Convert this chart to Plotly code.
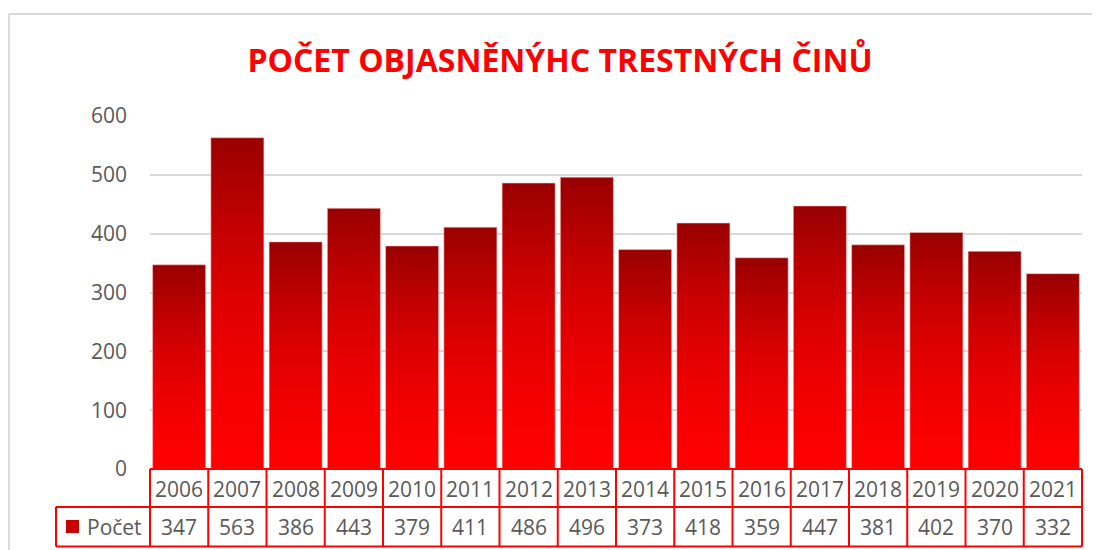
import plotly.graph_objects as go

years = ["2006", "2007", "2008", "2009", "2010", "2011", "2012", "2013",
         "2014", "2015", "2016", "2017", "2018", "2019", "2020", "2021"]
counts = [347, 563, 386, 443, 379, 411, 486, 496, 373, 418, 359, 447, 381, 402, 370, 332]
series_name = "Počet"
title_text = "POČET OBJASNĚNÝHC TRESTNÝCH ČINŮ"
y_ticks = [0, 100, 200, 300, 400, 500, 600]

OFF = 8  # page body margin
W, H = 1100 - OFF, 550 - OFF
# plot area in page pixels
PL, PR, PT, PB = 150, 1082, 116, 469
L, R, T, B = PL - OFF, W - (PR - OFF), PT - OFF, H - (PB - OFF)
pw, ph = PR - PL, PB - PT

def px_x(p):
    return (p - PL) / pw

def px_y(p):
    return (PB - p) / ph

RED = "#FF0000"
TXT = "#595959"
FONT = "Open Sans"
FS = 21
GRAD = [[0, "#FF0000"], [0.18, "#F80000"], [0.36, "#EC0000"], [0.53, "#DC0000"],
        [0.71, "#C60000"], [1, "#990000"]]

fig = go.Figure()
half = 0.455
n = len(years)
for i, (yr, v) in enumerate(zip(years, counts)):
    fig.add_trace(go.Scatter(
        x=[i - half, i - half, i + half, i + half, i - half],
        y=[0, v, v, 0, 0],
        mode="lines",
        fill="toself",
        line=dict(width=0.6, color="rgba(255,190,190,0.9)"),
        fillgradient=dict(type="vertical", colorscale=GRAD),
        name=yr,
        hoverinfo="text",
        text=f"{yr}: {v}",
        hoveron="fills",
        showlegend=False,
    ))

shapes = []
line = dict(color=RED, width=2)
y_top = 0
y_mid = px_y(507)
y_bot = px_y(546.5)
shapes.append(dict(type="line", xref="paper", yref="paper", x0=0, x1=1, y0=y_top, y1=y_top, line=line))
shapes.append(dict(type="line", xref="paper", yref="paper", x0=px_x(56), x1=1, y0=y_mid, y1=y_mid, line=line))
shapes.append(dict(type="line", xref="paper", yref="paper", x0=px_x(56), x1=1, y0=y_bot, y1=y_bot, line=line))
shapes.append(dict(type="line", xref="paper", yref="paper", x0=px_x(56), x1=px_x(56), y0=y_mid, y1=y_bot, line=line))
for k in range(n + 1):
    shapes.append(dict(type="line", xref="x domain", yref="paper", x0=k / n, x1=k / n,
                       y0=y_top, y1=y_bot, line=line))
# legend key square
shapes.append(dict(type="rect", xref="paper", yref="paper",
                   x0=px_x(66), x1=px_x(79), y0=px_y(533), y1=px_y(520),
                   fillcolor="#C80000", line=dict(width=0)))
# chart border (top and left)
border = dict(color="#D9D9D9", width=2)
shapes.append(dict(type="line", xref="paper", yref="paper", x0=px_x(9), x1=px_x(1100),
                   y0=px_y(14), y1=px_y(14), line=border))
shapes.append(dict(type="line", xref="paper", yref="paper", x0=px_x(9), x1=px_x(9),
                   y0=px_y(14), y1=px_y(550), line=border))

annotations = []
for i, (yr, v) in enumerate(zip(years, counts)):
    annotations.append(dict(x=i, y=px_y(489), xref="x", yref="paper", text=yr,
                            showarrow=False, xanchor="center", yanchor="middle",
                            font=dict(family=FONT, size=FS, color=TXT)))
    annotations.append(dict(x=i, y=px_y(527), xref="x", yref="paper", text=str(v),
                            showarrow=False, xanchor="center", yanchor="middle",
                            font=dict(family=FONT, size=FS, color=TXT)))
annotations.append(dict(x=px_x(85), y=px_y(527), xref="paper", yref="paper", text=series_name,
                        showarrow=False, xanchor="left", yanchor="middle",
                        font=dict(family=FONT, size=FS, color=TXT)))

fig.update_layout(
    width=W, height=H,
    margin=dict(l=L, r=R, t=T, b=B),
    paper_bgcolor="white", plot_bgcolor="white",
    title=dict(text=f"<b>{title_text}</b>", x=(560 - OFF) / W, xanchor="center",
               y=1 - (61 - OFF) / H, yanchor="middle", yref="container",
               font=dict(family=FONT, size=32, color=RED)),
    xaxis=dict(range=[-0.5, n - 0.5], showticklabels=False, showgrid=False,
               zeroline=False, showline=False, fixedrange=True),
    yaxis=dict(range=[0, 600], tickvals=y_ticks, showgrid=True, gridcolor="#D9D9D9",
               gridwidth=1.5, zeroline=False, showline=False, ticklabelstandoff=22,
               tickfont=dict(family=FONT, size=FS, color=TXT), fixedrange=True),
    shapes=shapes,
    annotations=annotations,
    showlegend=False,
)

fig.write_html("out.html")
